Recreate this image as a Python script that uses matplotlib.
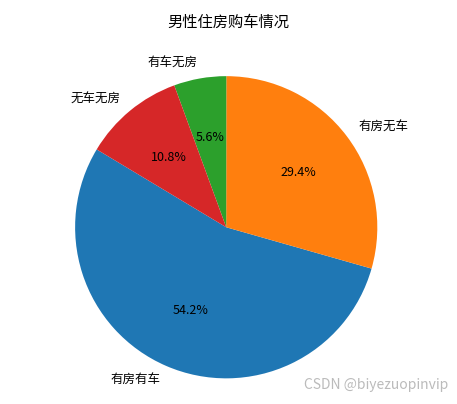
import matplotlib
matplotlib.use("Agg")
import matplotlib.pyplot as plt

plt.rcParams['font.family'] = ['Noto Sans CJK SC', 'DejaVu Sans']

labels = ['有房有车', '有房无车', '有车无房', '无车无房']
values = [54.2, 29.4, 5.6, 10.8]

fig = plt.figure(figsize=(4.57, 4.04), dpi=100)
ax = fig.add_axes([0.03, -0.03, 0.93, 0.935])
ax.pie(values, labels=labels, autopct='%1.1f%%', startangle=149,
       textprops={'fontsize': 9})
ax.set_aspect('equal')
fig.text(0.5, 0.945, '男性住房购车情况', ha='center', va='center', fontsize=11)
fig.text(0.98, 0.03, 'CSDN @biyezuopinvip', ha='right', va='bottom',
         fontsize=10, color='#bbbbbb')
fig.savefig('out.png', dpi=100)
